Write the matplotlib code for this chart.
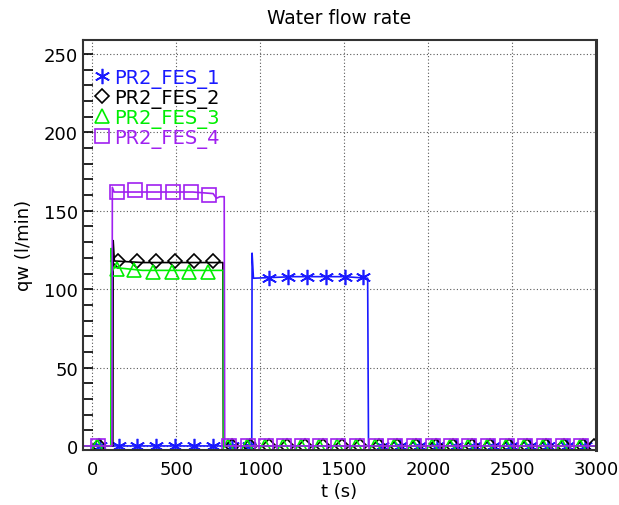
import numpy as np
import matplotlib.pyplot as plt
from matplotlib.lines import Line2D

# ---- data ----
names = ["PR2_FES_1", "PR2_FES_2", "PR2_FES_3", "PR2_FES_4"]
colors = ["#1a1aff", "black", "#00ee00", "#a020f0"]

# line traces (time s, flow l/min)
t1 = [-60, 950, 952, 960, 1200, 1500, 1640, 1645, 3000]
q1 = [0, 0, 123, 107, 108, 108, 107, 0, 0]

t2 = [-60, 123, 125, 132, 300, 600, 778, 781, 3000]
q2 = [0, 0, 131, 118, 117, 117, 117, 0, 0]

t3 = [-60, 111, 113, 118, 300, 600, 780, 783, 3000]
q3 = [0, 0, 126, 114, 112, 112, 112, 0, 0]

t4 = [-60, 118, 120, 130, 300, 600, 720, 740, 760, 786, 789, 3000]
q4 = [0, 0, 165, 162, 162, 162, 161, 158, 159, 159, 0, 0]

# marker samples
m1_t = [45, 161, 268, 381, 494, 607, 720, 830, 935, 1054, 1167, 1280, 1393, 1506, 1613,
        1725, 1835, 1945, 2055, 2165, 2275, 2385, 2495, 2605, 2715, 2825, 2935]
m1_q = [0, 0, 0, 0, 0, 0, 0, 0, 0, 107, 108, 108, 108, 108, 108,
        0, 0, 0, 0, 0, 0, 0, 0, 0, 0, 0, 0]

m2_t = [40, 155, 268, 381, 494, 607, 720, 835, 940, 1050, 1160, 1265, 1375, 1485, 1595,
        1705, 1815, 1930, 2045, 2150, 2260, 2370, 2480, 2590, 2700, 2810, 2925, 2990]
m2_q = [0, 118, 118, 118, 118, 118, 118, 0, 0, 0, 0, 0, 0, 0, 0,
        0, 0, 0, 0, 0, 0, 0, 0, 0, 0, 0, 0, 0]

m3_t = [30, 149, 250, 363, 476, 577, 690, 810, 920, 1030, 1137, 1245, 1350, 1460, 1572,
        1685, 1795, 1910, 2025, 2132, 2240, 2352, 2462, 2572, 2683, 2795, 2906]
m3_q = [0, 113, 112, 111, 111, 111, 111, 0, 0, 0, 0, 0, 0, 0, 0,
        0, 0, 0, 0, 0, 0, 0, 0, 0, 0, 0, 0]

m4_t = [36, 149, 256, 369, 482, 589, 696, 815, 925, 1033, 1140, 1250, 1355, 1465, 1577,
        1690, 1800, 1915, 2030, 2137, 2244, 2357, 2467, 2577, 2688, 2800, 2911]
m4_q = [0, 162, 163, 162, 162, 162, 160, 0, 0, 0, 0, 0, 0, 0, 0,
        0, 0, 0, 0, 0, 0, 0, 0, 0, 0, 0, 0]

traces = [(t1, q1, m1_t, m1_q), (t2, q2, m2_t, m2_q),
          (t3, q3, m3_t, m3_q), (t4, q4, m4_t, m4_q)]
markers = [(6, 2, 0), "D", "^", "s"]
msizes = [11, 7.5, 10, 10]

plt.rcParams["font.family"] = "DejaVu Sans"

fig = plt.figure(figsize=(6.19, 5.06), dpi=100)
ax = fig.add_axes([0.134, 0.109, 0.829, 0.81])

for (t, q, mt, mq), c, m, ms in zip(traces, colors, markers, msizes):
    ax.plot(t, q, color=c, lw=1.2)
    ax.plot(mt, mq, ls="none", marker=m, ms=ms, mfc="none", mec=c, mew=1.2)

ax.set_xlim(-55, 3000)
ax.set_ylim(-2.5, 259)
ax.set_xticks(np.arange(0, 3001, 500))
ax.set_yticks(np.arange(0, 251, 50))
ax.set_yticks(np.arange(0, 251, 10), minor=True)
ax.tick_params(axis="y", which="both", direction="in", length=7, width=1.2,
               labelsize=13, right=False)
ax.tick_params(axis="x", which="both", direction="in", length=0, labelsize=13, pad=7)
ax.grid(True, which="major", ls=(0, (1, 2)), color="0.35", lw=0.8)
for s in ax.spines.values():
    s.set_linewidth(1.5)
    s.set_color("#333333")
ax.spines["right"].set_linewidth(2.2)

ax.set_title("Water flow rate", fontsize=13.5, pad=12)
ax.set_xlabel("t (s)", fontsize=13, labelpad=3)
ax.set_ylabel("qw (l/min)", fontsize=13, labelpad=8)

handles = [Line2D([], [], ls="none", marker=m, ms=ms, mfc="none", mec=c, mew=1.2, color=c)
           for c, m, ms in zip(colors, markers, msizes)]
ax.legend(handles, names, loc="upper left", bbox_to_anchor=(0.0, 0.965), frameon=False,
          handlelength=0.6, handletextpad=0.3, labelspacing=0.0, borderaxespad=0.3,
          fontsize=14, labelcolor=colors)

fig.savefig("out.png", dpi=100)
